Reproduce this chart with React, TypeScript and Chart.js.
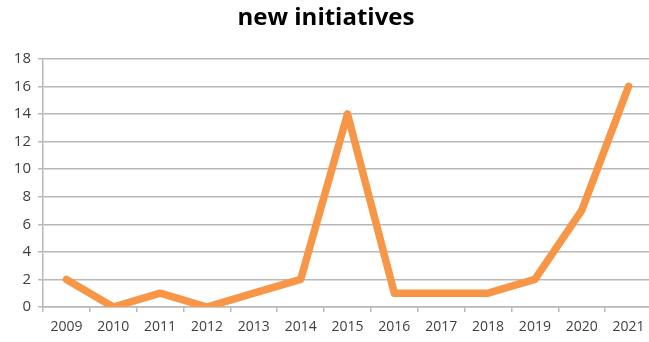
import React, { useEffect, useRef } from "react";
import { Chart, registerables } from "chart.js";

Chart.register(...registerables);

const years = ["2009", "2010", "2011", "2012", "2013", "2014", "2015", "2016", "2017", "2018", "2019", "2020", "2021"];
const initiatives = [2, 0, 1, 0, 1, 2, 14, 1, 1, 1, 2, 7, 16];
const titleText = "new initiatives";
const yMin = 0;
const yMax = 18;
const yStep = 2;

export default function App() {
  const ref = useRef<HTMLCanvasElement | null>(null);

  useEffect(() => {
    if (!ref.current) return;
    const chart = new Chart(ref.current, {
      type: "line",
      data: {
        labels: years,
        datasets: [
          {
            data: initiatives,
            borderColor: "#f79646",
            backgroundColor: "#f79646",
            borderWidth: 7.5,
            borderJoinStyle: "round",
            borderCapStyle: "round",
            pointRadius: 0,
            tension: 0,
          },
        ],
      },
      options: {
        responsive: false,
        animation: false,
        layout: { padding: 0 },
        plugins: {
          legend: { display: false },
          tooltip: { enabled: false },
          title: {
            display: true,
            text: titleText,
            color: "#000000",
            font: { family: "'Open Sans', sans-serif", size: 24, weight: "bold" },
            padding: { top: 4, bottom: 26 },
          },
        },
        scales: {
          x: {
            offset: true,
            grid: {
              offset: true,
              drawOnChartArea: false,
              drawTicks: true,
              tickLength: 5,
              color: "#b8b8b8",
              lineWidth: 1.5,
            },
            border: { display: true, color: "#b8b8b8", width: 1.5 },
            ticks: {
              color: "#404040",
              font: { family: "'Open Sans', sans-serif", size: 14 },
              padding: 7,
              maxRotation: 0,
              autoSkip: false,
            },
            afterFit: (scale: any) => {
              scale.height = 35;
            },
          },
          y: {
            min: yMin,
            max: yMax,
            ticks: {
              stepSize: yStep,
              color: "#404040",
              font: { family: "'Open Sans', sans-serif", size: 15 },
              padding: 7,
            },
            grid: {
              color: "#b8b8b8",
              lineWidth: 1.5,
              drawTicks: true,
              tickLength: 5,
            },
            border: { display: true, color: "#b8b8b8", width: 1.5 },
            afterFit: (scale: any) => {
              scale.width = 43;
            },
          },
        },
      },
    });
    return () => chart.destroy();
  }, []);

  return (
    <div
      style={{
        position: "fixed",
        left: 0,
        top: 0,
        width: 649,
        height: 342,
        overflow: "hidden",
        background: "#ffffff",
      }}
    >
      <canvas ref={ref} width={652} height={342} style={{ display: "block" }} />
    </div>
  );
}
